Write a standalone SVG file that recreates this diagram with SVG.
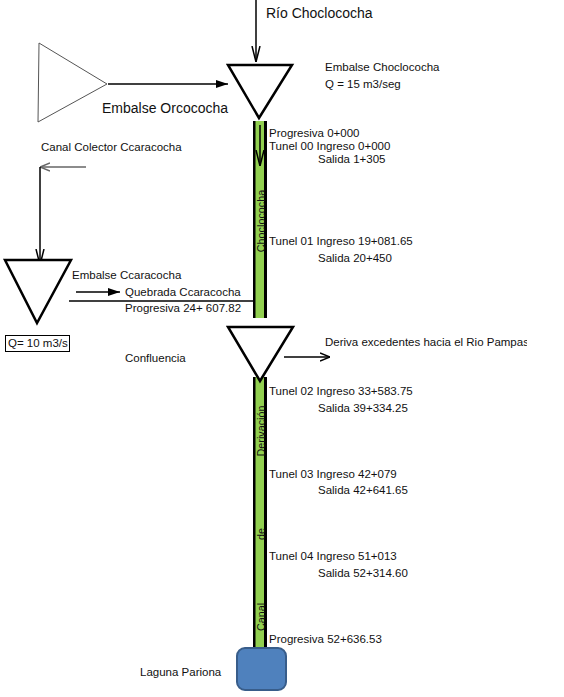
<svg xmlns="http://www.w3.org/2000/svg" width="564" height="697" viewBox="0 0 564 697">
<style>
.t{font-family:"Liberation Sans",Arial,sans-serif;font-size:11.5px;fill:#111}
.a{font-family:"Liberation Sans",Arial,sans-serif;font-size:14px;fill:#111}
.v{font-family:"Liberation Sans",Arial,sans-serif;font-size:10.8px;fill:#111}
.tri{fill:#fff;stroke:#000;stroke-width:2.5;stroke-linejoin:miter}
.ln{fill:none;stroke:#000;stroke-width:1.5}
</style>
<defs>
<marker id="open" viewBox="0 0 10 10" refX="10" refY="5" markerWidth="10" markerHeight="10" markerUnits="userSpaceOnUse" orient="auto">
<path d="M0,1 L10,5 L0,9" fill="none" stroke="#000" stroke-width="1.5"/>
</marker>
<marker id="openL" viewBox="0 0 16 10" refX="16" refY="5" markerWidth="16" markerHeight="10" markerUnits="userSpaceOnUse" orient="auto">
<path d="M0,1 L16,5 L0,9" fill="none" stroke="#000" stroke-width="1.5"/>
</marker>
<marker id="openG" viewBox="0 0 10 10" refX="10" refY="5" markerWidth="10" markerHeight="10" markerUnits="userSpaceOnUse" orient="auto">
<path d="M0,1 L10,5 L0,9" fill="none" stroke="#666" stroke-width="1.5"/>
</marker>
<marker id="fill" viewBox="0 0 12 10" refX="12" refY="5" markerWidth="12" markerHeight="10" markerUnits="userSpaceOnUse" orient="auto">
<path d="M0,1 L12,5 L0,9 Z" fill="#000"/>
</marker>
<clipPath id="clipR"><rect x="0" y="0" width="527" height="697"/></clipPath>
</defs>

<g id="canals">
<rect x="253" y="121" width="14" height="197" fill="#000"/>
<rect x="255.5" y="121" width="8.5" height="197" fill="#92D050"/>
<rect x="253" y="377" width="14" height="272" fill="#000"/>
<rect x="255.5" y="377" width="8.5" height="272" fill="#92D050"/>
</g>

<g id="connectors">
<line class="ln" x1="256" y1="0" x2="256" y2="62" marker-end="url(#openL)"/>
<line class="ln" x1="108" y1="84" x2="228" y2="84" marker-end="url(#fill)"/>
<line class="ln" x1="260" y1="125" x2="260" y2="166" marker-end="url(#openL)"/>
<polyline fill="none" stroke="#666" stroke-width="1.5" points="86,167 40,167" marker-end="url(#openG)"/>
<line class="ln" x1="40" y1="167" x2="40" y2="265" marker-end="url(#openL)"/>
<line class="ln" x1="76" y1="292" x2="120" y2="292" marker-end="url(#fill)"/>
<line x1="69" y1="301" x2="253" y2="301" stroke="#000" stroke-width="1.3"/>
<line class="ln" x1="284" y1="357" x2="330" y2="357" marker-end="url(#open)"/>
</g>

<g id="orcococha">
<polygon points="39,43 107,84 38,122" fill="#fff" stroke="#555" stroke-width="1"/>
<text class="a" x="102" y="113">Embalse Orcococha</text>
</g>

<g id="choclococha">
<polygon class="tri" points="228,65 292,65 259,118"/>
<text class="a" x="266" y="18">Río Choclococha</text>
<text class="t" x="325" y="71">Embalse Choclococha</text>
<text class="t" x="325" y="88">Q = 15 m3/seg</text>
</g>

<g id="tramo1">
<text class="t" x="269" y="137">Progresiva 0+000</text>
<text class="t" x="269" y="150">Tunel 00 Ingreso 0+000</text>
<text class="t" x="318" y="163">Salida 1+305</text>
<text class="v" transform="translate(265,221) rotate(-90)" text-anchor="middle">Choclococha</text>
<text class="t" x="269" y="245">Tunel 01 Ingreso 19+081.65</text>
<text class="t" x="318" y="262">Salida 20+450</text>
</g>

<g id="ccaracocha">
<text class="t" x="41" y="151">Canal Colector Ccaracocha</text>
<polygon class="tri" points="5,260 71,260 37,323"/>
<text class="t" x="72" y="279">Embalse Ccaracocha</text>
<text class="t" x="125" y="296">Quebrada Ccaracocha</text>
<text class="t" x="125" y="312">Progresiva 24+ 607.82</text>
<rect x="5.5" y="335.5" width="64" height="16" fill="#fff" stroke="#000" stroke-width="1"/>
<text class="t" x="8" y="347">Q= 10 m3/s</text>
</g>

<g id="confluencia">
<polygon class="tri" points="228,327 293,327 260,381"/>
<text class="t" x="125" y="362">Confluencia</text>
<text class="t" x="325" y="346" clip-path="url(#clipR)">Deriva excedentes hacia el Rio Pampas</text>
</g>

<g id="tramo2">
<text class="t" x="269" y="395">Tunel 02 Ingreso 33+583.75</text>
<text class="t" x="318" y="412">Salida 39+334.25</text>
<text class="v" transform="translate(265,431) rotate(-90)" text-anchor="middle">Derivación</text>
<text class="t" x="269" y="478">Tunel 03 Ingreso 42+079</text>
<text class="t" x="318" y="494">Salida 42+641.65</text>
<text class="v" transform="translate(265,534) rotate(-90)" text-anchor="middle">de</text>
<text class="t" x="269" y="560">Tunel 04 Ingreso 51+013</text>
<text class="t" x="318" y="577">Salida 52+314.60</text>
<text class="v" transform="translate(265,617) rotate(-90)" text-anchor="middle">Canal</text>
<text class="t" x="269" y="643">Progresiva 52+636.53</text>
</g>

<g id="pariona">
<rect x="237" y="648" width="49" height="42" rx="8" ry="8" fill="#4F81BD" stroke="#385D8A" stroke-width="2"/>
<text class="t" x="140" y="676">Laguna Pariona</text>
</g>
</svg>
